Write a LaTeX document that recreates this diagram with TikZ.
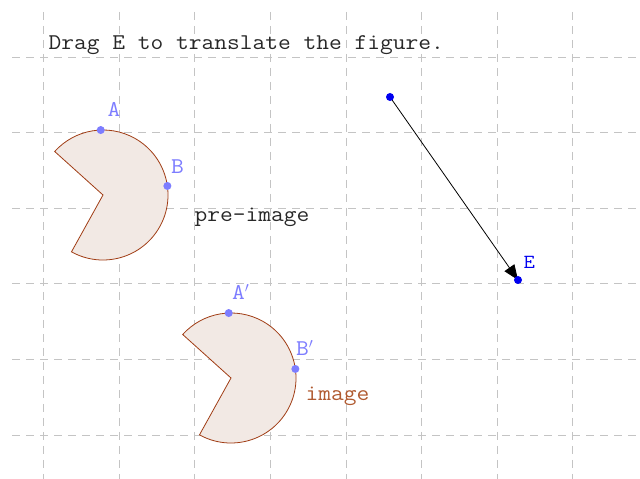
\documentclass[tikz,border=0pt]{standalone}
\usepackage{fontspec}
\setmonofont[FakeStretch=1.1]{Latin Modern Mono}
\usetikzlibrary{arrows.meta}
\definecolor{gridc}{RGB}{196,196,196}
\definecolor{shapeline}{RGB}{160,60,20}
\definecolor{shapefill}{RGB}{242,233,228}
\definecolor{imgtext}{RGB}{176,90,48}
\definecolor{ptc}{RGB}{125,125,255}
\definecolor{vecc}{RGB}{0,0,240}
\definecolor{textc}{RGB}{40,40,40}
\begin{document}
\begin{tikzpicture}[x=1pt,y=1pt,
  gridline/.style={gridc, line width=0.9pt, dash pattern=on 8pt off 6pt},
  txt/.style={font=\fontsize{22.5}{24}\selectfont\ttfamily, inner sep=0pt, anchor=base west},
  ptlabel/.style={txt, text=ptc},
  pacman/.style={draw=shapeline, fill=shapefill, line width=0.8pt, line join=miter},
  ptdot/.style={circle, fill=ptc, inner sep=0pt, minimum size=8pt},
  vecdot/.style={circle, fill=vecc, inner sep=0pt, minimum size=8pt},
  vecline/.style={black, line width=0.8pt, -{Triangle[length=15pt,width=12pt]}}]
\useasboundingbox (0,0) rectangle (640,479);
% grid
\foreach \i in {0,...,7} {
  \draw[gridline] (43.6+75.6*\i,467) -- (43.6+75.6*\i,0);
}
\foreach \j in {0,...,5} {
  \draw[gridline] (12,422-75.6*\j) -- (640,422-75.6*\j);
}
% title
\node[txt, text=textc] (title) at (48.5,429) {Drag E to translate the figure.};
% pre-image
\coordinate (O) at (103,284);
\draw[pacman] (O) -- ++(241:65) arc[start angle=241, end angle=498, radius=65] -- cycle;
\path (O) ++(92:65) coordinate (A);
\path (O) ++(8:65) coordinate (B);
\node[ptdot] (Adot) at (A) {};
\node[ptdot] (Bdot) at (B) {};
\node[ptlabel] (Alab) at (107.5,362) {A};
\node[ptlabel] (Blab) at (171,305.7) {B};
\node[txt, text=textc] (pre) at (194.5,257.3) {pre-image};
% image
\coordinate (O2) at (231,101);
\draw[pacman] (O2) -- ++(241:65) arc[start angle=241, end angle=498, radius=65] -- cycle;
\path (O2) ++(92:65) coordinate (A2);
\path (O2) ++(8:65) coordinate (B2);
\node[ptdot] (A2dot) at (A2) {};
\node[ptdot] (B2dot) at (B2) {};
\node[ptlabel] (A2lab) at (232,179) {A$'$};
\node[ptlabel] (B2lab) at (296,123) {B$'$};
\node[txt, text=imgtext] (img) at (305.5,78.3) {image};
% vector
\coordinate (S) at (390,382);
\coordinate (E) at (518,199);
\draw[vecline] (S) -- (E);
\node[vecdot] (Sdot) at (S) {};
\node[vecdot] (Edot) at (E) {};
\node[txt, text=vecc, font=\fontsize{20}{22}\selectfont\ttfamily] (Elab) at (523.5,210) {E};
\end{tikzpicture}
\end{document}
